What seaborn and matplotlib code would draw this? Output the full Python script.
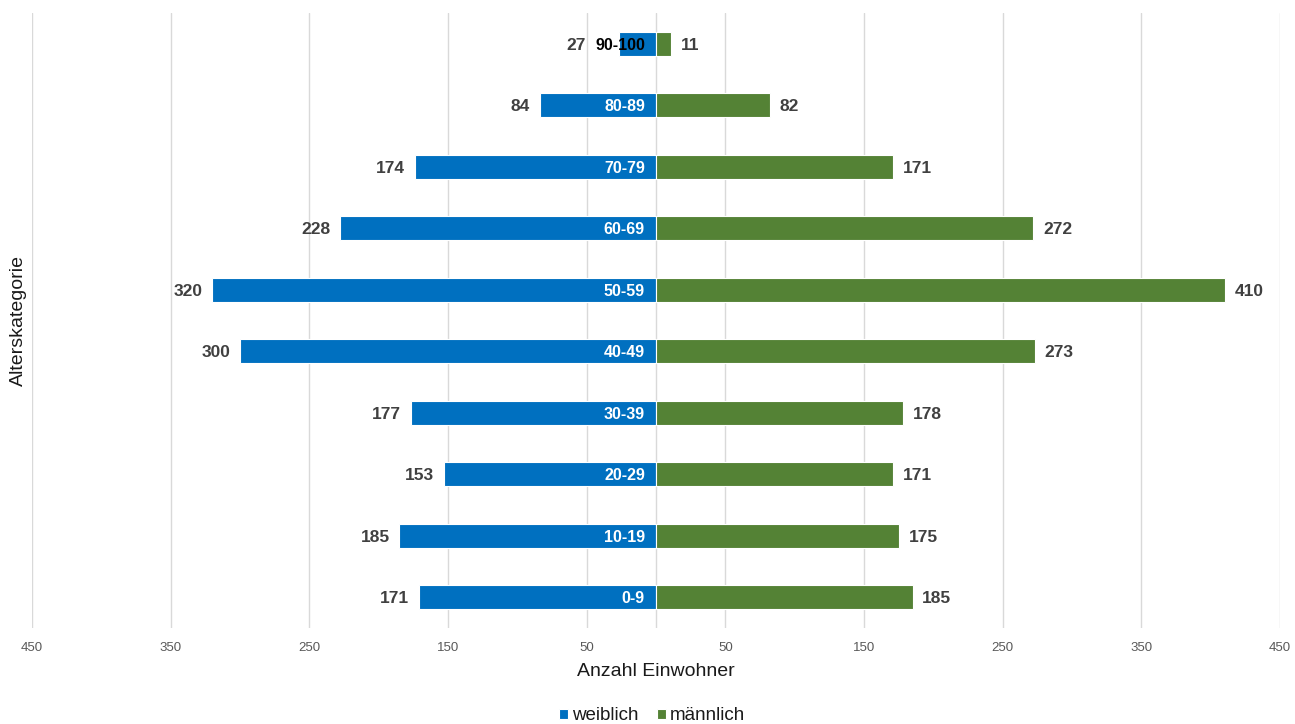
import matplotlib
matplotlib.use("Agg")
import matplotlib.pyplot as plt
import seaborn as sns
import pandas as pd
import numpy as np

categories = ["90-100", "80-89", "70-79", "60-69", "50-59", "40-49", "30-39", "20-29", "10-19", "0-9"]
weiblich = [27, 84, 174, 228, 320, 300, 177, 153, 185, 171]
maennlich = [11, 82, 171, 272, 410, 273, 178, 171, 175, 185]
tick_values = [-450, -350, -250, -150, -50, 50, 150, 250, 350, 450]
tick_labels = ["450", "350", "250", "150", "50", "50", "150", "250", "350", "450"]

blue = "#0070C0"
green = "#548235"

df = pd.DataFrame({
    "Alterskategorie": categories * 2,
    "Anzahl": [-v for v in weiblich] + maennlich,
    "Geschlecht": ["weiblich"] * len(categories) + ["männlich"] * len(categories),
})

sns.set_theme(style="white")
plt.rcParams["font.family"] = ["Liberation Sans", "DejaVu Sans"]

fig = plt.figure(figsize=(12.95, 7.24), dpi=100)
ax = fig.add_axes([32 / 1295, 1 - 628 / 724, (1280 - 32) / 1295, (628 - 13) / 724])

sns.barplot(data=df, x="Anzahl", y="Alterskategorie", hue="Geschlecht",
            order=categories, hue_order=["weiblich", "männlich"],
            palette={"weiblich": blue, "männlich": green}, saturation=1,
            dodge=False, width=0.39, orient="h", ax=ax,
            edgecolor="white", linewidth=0.8, legend=True, zorder=3)

ax.set_xlim(-450, 450)
ax.set_ylim(len(categories) - 0.5, -0.5)
ax.set_xticks(tick_values)
ax.set_xticklabels(tick_labels, fontsize=9.5, color="#595959")
ax.tick_params(axis="x", length=0, pad=10)
ax.set_yticks([])
ax.grid(axis="x", color="#D9D9D9", linewidth=1, zorder=0)
ax.axvline(0, color="#D9D9D9", linewidth=1, zorder=1)
for s in ax.spines.values():
    s.set_visible(False)

ax.set_xlabel("Anzahl Einwohner", fontsize=14, color="#1a1a1a", va="center")
ax.xaxis.set_label_coords(0.5, -(671 - 628) / 615)
ax.set_ylabel("Alterskategorie", fontsize=14, color="#1a1a1a", va="center")
ax.yaxis.set_label_coords(-(32 - 18) / 1248, 0.5)

fig.canvas.draw()
renderer = fig.canvas.get_renderer()
inv = ax.transData.inverted()

for i, (cat, w, m) in enumerate(zip(categories, weiblich, maennlich)):
    col = "black" if w < 50 else "white"
    t = ax.annotate(cat, (0, i), xytext=(-8, 0), textcoords="offset points",
                    ha="right", va="center_baseline", fontsize=11.5, fontweight="bold",
                    color=col, zorder=5)
    bb = t.get_window_extent(renderer)
    left_data = inv.transform((bb.x0, 0))[0]
    anchor = min(-w, left_data)
    ax.annotate(str(w), (anchor, i), xytext=(-7, 0), textcoords="offset points",
                ha="right", va="center_baseline", fontsize=12.5, fontweight="bold", color="#404040")
    ax.annotate(str(m), (m, i), xytext=(7, 0), textcoords="offset points",
                ha="left", va="center_baseline", fontsize=12.5, fontweight="bold", color="#404040")

handles, labels = ax.get_legend_handles_labels()
ax.get_legend().remove()
fig.legend(handles, labels, loc="center", bbox_to_anchor=(652 / 1295, 1 - 716 / 724),
           ncol=2, frameon=False, fontsize=13.5, handlelength=0.5, handleheight=0.5,
           handletextpad=0.2, columnspacing=1.0, labelcolor="#1a1a1a")

fig.savefig("out.png", dpi=100)
